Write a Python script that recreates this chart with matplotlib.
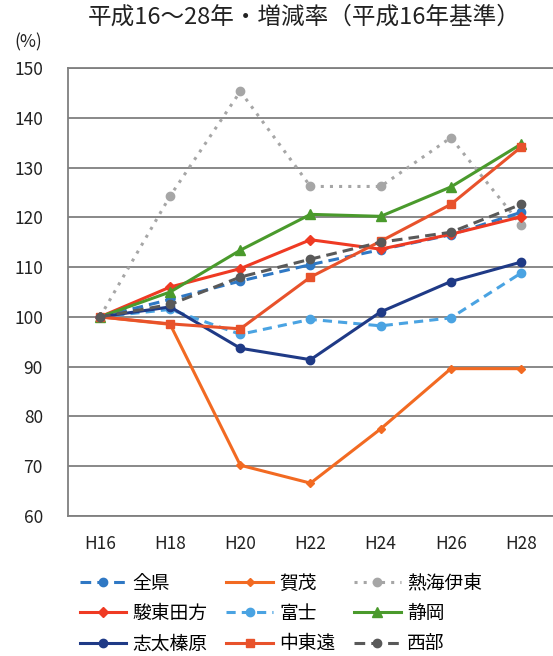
import matplotlib
matplotlib.use("Agg")
import matplotlib.pyplot as plt

plt.rcParams['font.family'] = ['Noto Sans CJK JP', 'DejaVu Sans']

years = ["H16", "H18", "H20", "H22", "H24", "H26", "H28"]

zenken = [100, 103.5, 107.2, 110.5, 113.5, 116.5, 121]
kamo = [100, 98.5, 70.2, 66.6, 77.5, 89.6, 89.6]
atami_ito = [100, 124.3, 145.3, 126.2, 126.2, 136, 118.5]
sunto_tagata = [100, 106, 109.7, 115.5, 113.6, 116.6, 120.1]
fuji = [100, 101.5, 96.5, 99.5, 98.2, 99.8, 108.8]
shizuoka = [100, 105, 113.4, 120.6, 120.2, 126.1, 134.7]
shida_haibara = [100, 102, 93.7, 91.4, 101, 107.1, 111]
chutoen = [100, 98.6, 97.6, 108, 115.2, 122.6, 134.1]
seibu = [100, 102.5, 108, 111.6, 115, 117, 122.6]

series = [
    ("全県", zenken, dict(color="#2f78c4", ls=(0, (3.5, 2)), marker="o", ms=6)),
    ("賀茂", kamo, dict(color="#f26a22", ls="-", marker="D", ms=4)),
    ("熱海伊東", atami_ito, dict(color="#a6a6a6", ls=(0, (1, 2)), marker="o", ms=6)),
    ("駿東田方", sunto_tagata, dict(color="#ef3a23", ls="-", marker="D", ms=5)),
    ("富士", fuji, dict(color="#4aa3e2", ls=(0, (3, 2)), marker="o", ms=6)),
    ("静岡", shizuoka, dict(color="#4a9a2c", ls="-", marker="^", ms=7)),
    ("志太榛原", shida_haibara, dict(color="#1f3a86", ls="-", marker="o", ms=6)),
    ("中東遠", chutoen, dict(color="#e8522b", ls="-", marker="s", ms=6)),
    ("西部", seibu, dict(color="#595959", ls=(0, (3.5, 2)), marker="o", ms=6)),
]

fig = plt.figure(figsize=(5.53, 6.56), dpi=100)
ax = fig.add_axes([68 / 553, 140 / 656, 485 / 553, 448 / 656])

x = list(range(len(years)))
handles = {}
for name, vals, st in series:
    h, = ax.plot(x, vals, lw=2.2, label=name, zorder=3, **st)
    handles[name] = h

ax.set_xlim(-0.456, 6.456)
ax.set_ylim(60, 150)
ax.set_yticks(range(60, 151, 10))
ax.set_xticks(x)
ax.set_xticklabels(years)
ax.yaxis.grid(True, color="#7f7f7f", lw=1.3)
ax.set_axisbelow(True)
ax.tick_params(axis="both", length=0, labelsize=12.5, colors="#222222")
ax.tick_params(axis="y", pad=18)
ax.tick_params(axis="x", pad=14)
for side in ["left", "top", "bottom"]:
    ax.spines[side].set_color("#7f7f7f")
    ax.spines[side].set_linewidth(1.3)
ax.spines["right"].set_visible(False)

fig.text(304 / 553, 1 - 17 / 656, "平成16～28年・増減率（平成16年基準）",
         ha="center", va="center", fontsize=17, color="#222222")
fig.text(28 / 553, 1 - 42 / 656, "(%)", ha="center", va="center",
         fontsize=12.5, color="#222222")

order = ["全県", "駿東田方", "志太榛原", "賀茂", "富士", "中東遠",
         "熱海伊東", "静岡", "西部"]
fig.legend([handles[n] for n in order], order, ncol=3, frameon=False,
           loc="upper left", bbox_to_anchor=(72 / 553, 1 - 565 / 656),
           fontsize=13.5, handlelength=2.5, handletextpad=0.32,
           columnspacing=1.0, labelspacing=0.5, borderaxespad=0)

fig.savefig("out.png", dpi=100, facecolor="white")
